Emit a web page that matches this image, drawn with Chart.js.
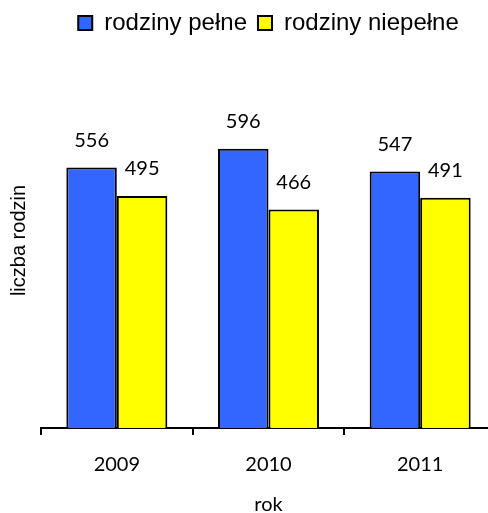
<!DOCTYPE html>
<html>
<head>
<meta charset="utf-8">
<script src="https://cdn.jsdelivr.net/npm/chart.js@4.4.0/dist/chart.umd.min.js"></script>
<style>
  html, body { margin: 0; padding: 0; background: #fff; overflow: hidden; }
  #wrap { width: 537px; height: 513px; }
</style>
</head>
<body>
<div id="wrap"><canvas id="chart" width="537" height="513"></canvas></div>
<script>
// Values
const years = ['2009', '2010', '2011'];
const fullFamilies = [556, 596, 547];
const singleParent = [495, 466, 491];
const seriesNames = ['rodziny pełne', 'rodziny niepełne'];

// value labels above each bar (no datalabels plugin available)
const valueLabels = {
  id: 'valueLabels',
  afterDatasetsDraw(chart) {
    const ctx = chart.ctx;
    ctx.save();
    ctx.font = '20px Lato';
    ctx.fillStyle = '#000';
    ctx.textAlign = 'center';
    ctx.textBaseline = 'middle';
    chart.data.datasets.forEach((ds, i) => {
      chart.getDatasetMeta(i).data.forEach((bar, j) => {
        ctx.fillText(String(ds.data[j]), bar.x, bar.y - 27);
      });
    });
    ctx.restore();
  }
};

// make the legend block taller so the plot starts lower
const legendHeight = {
  id: 'legendHeight',
  beforeInit(chart) {
    const origFit = chart.legend.fit;
    chart.legend.fit = function () {
      origFit.bind(chart.legend)();
      this.height = 53;
    };
  }
};

const ctx = document.getElementById('chart').getContext('2d');
new Chart(ctx, {
  type: 'bar',
  data: {
    labels: years,
    datasets: [
      {
        label: seriesNames[0],
        data: fullFamilies,
        backgroundColor: '#3366FF',
        borderColor: '#000',
        borderWidth: 2,
        categoryPercentage: 0.666,
        barPercentage: 1
      },
      {
        label: seriesNames[1],
        data: singleParent,
        backgroundColor: '#FFFF00',
        borderColor: '#000',
        borderWidth: 2,
        categoryPercentage: 0.666,
        barPercentage: 1
      }
    ]
  },
  options: {
    responsive: false,
    animation: false,
    layout: { padding: 0 },
    plugins: {
      legend: {
        position: 'top',
        labels: {
          boxWidth: 14,
          boxHeight: 14,
          padding: 11,
          color: '#000',
          font: { family: '"Liberation Sans", Arial, sans-serif', size: 24 }
        }
      },
      tooltip: { enabled: false }
    },
    scales: {
      x: {
        offset: true,
        grid: { display: true, drawOnChartArea: false, drawTicks: true, tickLength: 7, color: '#000', lineWidth: 2, offset: true },
        border: { display: true, color: '#000', width: 2 },
        ticks: { color: '#000', padding: 18, font: { family: 'Lato', size: 20 } },
        title: { display: true, text: 'rok', color: '#000', font: { family: 'Lato', size: 20 }, padding: { top: 0, bottom: -4 } },
        afterFit(scale) { scale.height = 85; }
      },
      y: {
        min: 0,
        max: 800,
        grid: { display: false },
        border: { display: false },
        ticks: { display: false },
        title: { display: true, text: 'liczba rodzin', color: '#000', font: { family: '"Liberation Sans", Arial, sans-serif', size: 20 }, padding: { top: 7, bottom: 0 } },
        afterFit(scale) { scale.width = 41; }
      },
      // empty right-hand axis, only to keep the plot edge where the reference has it
      yRight: {
        position: 'right',
        min: 0,
        max: 800,
        grid: { display: false },
        border: { display: false },
        ticks: { display: false },
        afterFit(scale) { scale.width = 41; }
      }
    }
  },
  plugins: [valueLabels, legendHeight]
});
</script>
</body>
</html>
